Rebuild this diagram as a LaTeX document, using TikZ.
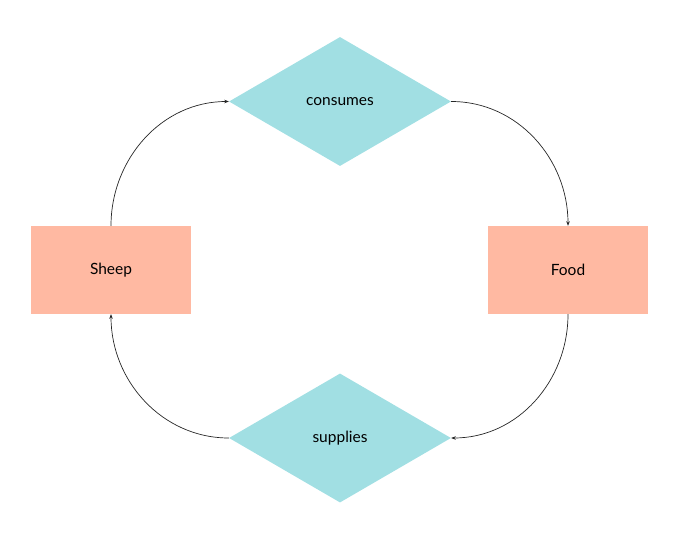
\documentclass[tikz,border=0pt]{standalone}
\usepackage{fontspec}
\setmainfont{Lato}
\usetikzlibrary{shapes.geometric,arrows.meta}

\definecolor{relcol}{RGB}{161,223,227}
\definecolor{thingcol}{RGB}{255,185,162}

\begin{document}
\begin{tikzpicture}[x=1pt,y=-1pt,
    thing/.style={rectangle,fill=thingcol,minimum width=160pt,minimum height=88pt,inner sep=0pt},
    relation/.style={diamond,fill=relcol,minimum width=222pt,minimum height=129pt,inner sep=0pt},
    link/.style={-{Stealth[length=4.5pt,width=3.5pt]},black!85,line width=0.7pt}]

\useasboundingbox (0,0) rectangle (677,540);
\fontsize{15.5}{18}\selectfont

%draw the two things
\node[thing] (sheep) at (111,270) {Sheep};
\node[thing] (food) at (568,270) {Food};

%draw the two relations
\node[relation] (consumes) at (340,101.5) {consumes};
\node[relation] (supplies) at (340,438) {supplies};

%draw the cycle
\draw[link] (sheep.north) to[out=90,in=180] (consumes.west);
\draw[link] (consumes.east) to[out=0,in=90] (food.north);
\draw[link] (food.south) to[out=-90,in=0] (supplies.east);
\draw[link] (supplies.west) to[out=180,in=-90] (sheep.south);

\end{tikzpicture}
\end{document}
